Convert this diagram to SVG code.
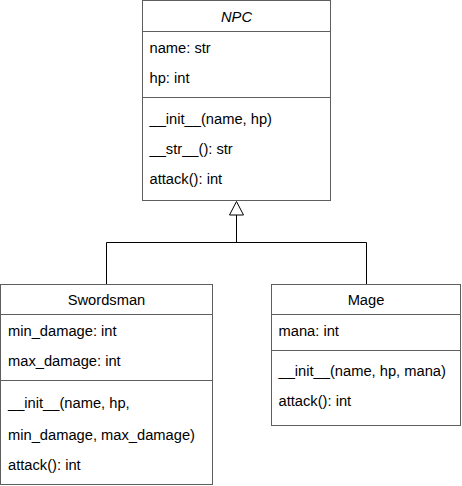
<svg xmlns="http://www.w3.org/2000/svg" width="462" height="486" viewBox="0 0 462 486">
<style>
.box{fill:#ffffff;stroke:#5e5e5e;stroke-width:1}
.div{stroke:#5e5e5e;stroke-width:1;fill:none}
.t{font-family:"Liberation Sans",Arial,sans-serif;font-size:14.7px;fill:#000000}
.c{text-anchor:middle}
.i{font-style:italic}
.edge{stroke:#000000;stroke-width:1;fill:none}
</style>
<rect x="0" y="0" width="462" height="486" fill="#ffffff"/>
<g id="connectors">
<path class="edge" d="M106.5 284.5 V242.5 H366.5 V284.5"/>
<path class="edge" d="M236.5 242.5 V215"/>
<polygon points="236.5,201.5 229.5,215 243.5,215" fill="#ffffff" stroke="#000000" stroke-width="1"/>
</g>
<g id="NPC">
<rect class="box" x="142.5" y="0.5" width="188" height="200"/>
<line class="div" x1="142.5" y1="31.5" x2="330.5" y2="31.5"/>
<line class="div" x1="142.5" y1="97.5" x2="330.5" y2="97.5"/>
<text class="t c i" x="236.5" y="21.7">NPC</text>
<text class="t" x="149.5" y="53.3">name: str</text>
<text class="t" x="149.5" y="83.3">hp: int</text>
<text class="t" x="149.5" y="123.5">__init__(name, hp)</text>
<text class="t" x="149.5" y="153.5">__str__(): str</text>
<text class="t" x="149.5" y="183.8">attack(): int</text>
</g>
<g id="Swordsman">
<rect class="box" x="0.5" y="284.5" width="212" height="200"/>
<line class="div" x1="0.5" y1="314.5" x2="212.5" y2="314.5"/>
<line class="div" x1="0.5" y1="380.5" x2="212.5" y2="380.5"/>
<text class="t c" x="106.5" y="304.5">Swordsman</text>
<text class="t" x="8" y="336">min_damage: int</text>
<text class="t" x="8" y="366">max_damage: int</text>
<text class="t" x="8" y="407.5">__init__(name, hp,</text>
<text class="t" x="8" y="439.5">min_damage, max_damage)</text>
<text class="t" x="8" y="470">attack(): int</text>
</g>
<g id="Mage">
<rect class="box" x="271.5" y="284.5" width="189" height="141"/>
<line class="div" x1="271.5" y1="314.5" x2="460.5" y2="314.5"/>
<line class="div" x1="271.5" y1="350.5" x2="460.5" y2="350.5"/>
<text class="t c" x="366" y="304.5">Mage</text>
<text class="t" x="278.5" y="336">mana: int</text>
<text class="t" x="278.5" y="376">__init__(name, hp, mana)</text>
<text class="t" x="278.5" y="406">attack(): int</text>
</g>
</svg>
